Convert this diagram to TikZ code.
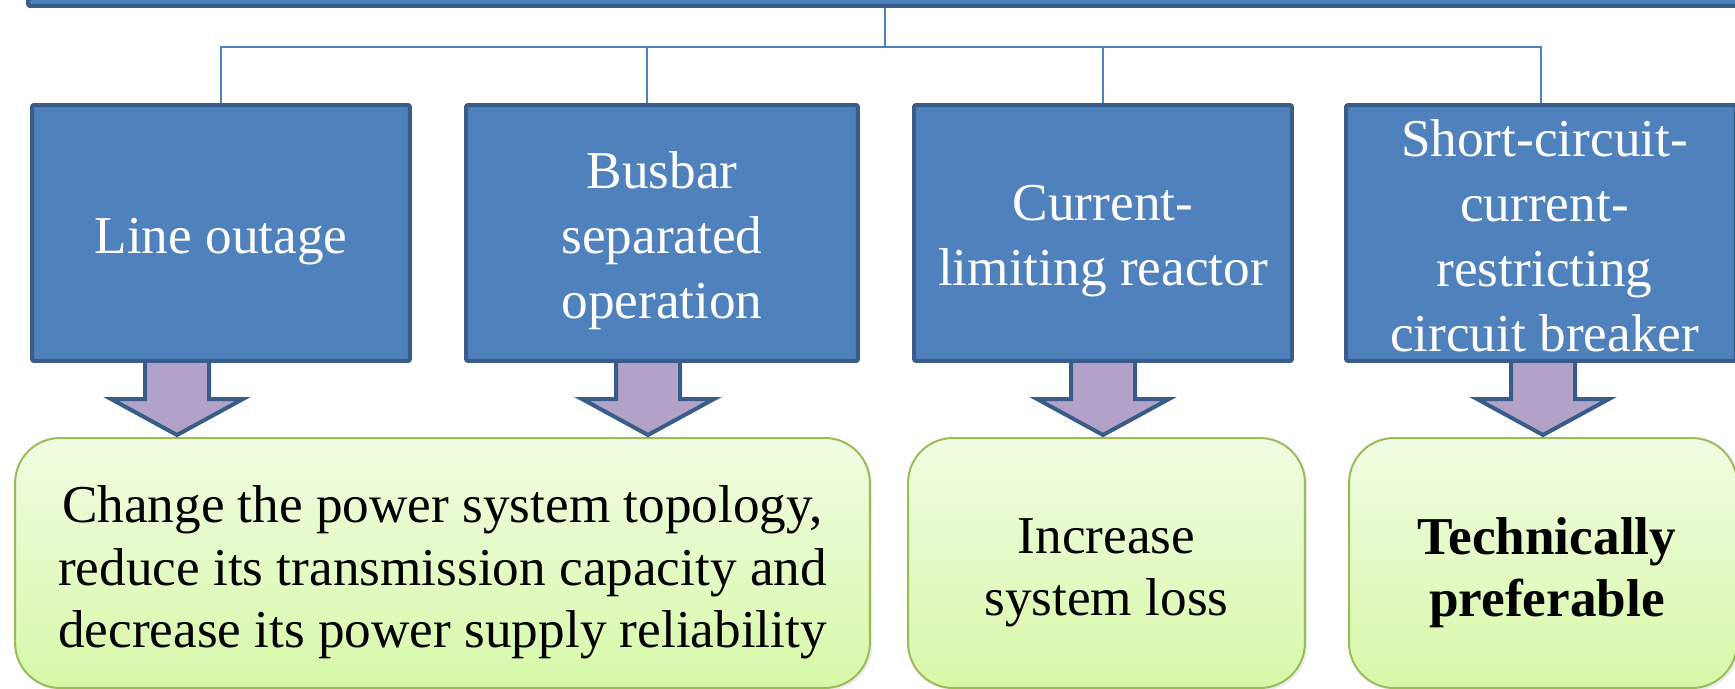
\documentclass[tikz,border=0pt]{standalone}
\usepackage{fontspec}
\setmainfont{Liberation Serif}
\usepackage{tikz}
\usetikzlibrary{shadows}

\definecolor{boxblue}{HTML}{4F81BD}
\definecolor{edgeblue}{HTML}{385D8A}
\definecolor{arrowlilac}{HTML}{B2A2C7}
\definecolor{leafedge}{HTML}{9BBB59}
\definecolor{leaftop}{HTML}{F1FCE2}
\definecolor{leafbottom}{HTML}{D7F8A8}

\tikzset{
  topbox/.style={draw=edgeblue, line width=0.08cm, fill=boxblue, rounded corners=0.04cm,
    inner sep=0pt, minimum height=5.12cm},
  toptext/.style={text=white, align=center, inner sep=0pt,
    font=\fontsize{30.3}{37}\selectfont,
    execute at begin node=\strut, execute at end node=\strut},
  leafbox/.style={draw=leafedge, line width=0.04cm, rounded corners=0.9cm,
    top color=leaftop, bottom color=leafbottom, inner sep=0pt, minimum height=5cm,
    drop shadow={shadow xshift=0.05cm, shadow yshift=-0.05cm, opacity=0.15}},
  leaftext/.style={align=center, inner sep=0pt, font=\fontsize{30.3}{35.5}\selectfont,
    execute at begin node=\strut, execute at end node=\strut},
  link/.style={draw=boxblue, line width=0.04cm},
  downarrow/.style={draw=edgeblue, fill=arrowlilac, line width=0.08cm, line join=miter}
}

\begin{document}
\begin{tikzpicture}[x=0.02cm, y=-0.02cm]
  \useasboundingbox (0,0) rectangle (1735,689);
  \clip (0,0) rectangle (1735,689);

  % consequences
  \node[leafbox, minimum width=17.1cm] (topology) at (442.5,563) {};
  \node[leafbox, minimum width=7.94cm] (loss) at (1106.5,563) {};
  \node[leafbox, minimum width=7.76cm] (prefer) at (1543,563) {};
  \node[leaftext] (topologytext) at ([yshift=-0.26cm]topology.center)
    {Change the power system topology,\\reduce its transmission capacity and\\decrease its power supply reliability};
  \node[leaftext] (losstext) at ([yshift=-0.27cm]loss.center) {Increase\\system loss};
  \node[leaftext, font=\fontsize{30.3}{35.5}\selectfont\bfseries] (prefertext)
    at ([xshift=0.08cm, yshift=-0.27cm]prefer.center) {Technically\\preferable};

  % block arrows
  \foreach \ax in {177,648,1103,1543} {
    \filldraw[downarrow] (\ax-32,350) -- (\ax-32,399) -- (\ax-66,399) -- (\ax,435)
      -- (\ax+66,399) -- (\ax+32,399) -- (\ax+32,350) -- cycle;
  }

  % measures
  \node[topbox, minimum width=35.04cm, minimum height=1.32cm] (root) at (904,-27) {};
  \node[topbox, minimum width=7.56cm] (outage) at (221,233) {};
  \node[topbox, minimum width=7.84cm] (busbar) at (662,233) {};
  \node[topbox, minimum width=7.56cm] (reactor) at (1103,233) {};
  \node[topbox, minimum width=7.8cm] (breaker) at (1541,233) {};
  \node[toptext] (outagetext) at ([yshift=-0.15cm]outage.center) {Line outage};
  \node[toptext] (busbartext) at ([yshift=-0.24cm]busbar.center) {Busbar\\separated\\operation};
  \node[toptext] (reactortext) at ([yshift=-0.25cm]reactor.center) {Current-\\limiting reactor};
  \node[toptext] (breakertext) at ([xshift=0.07cm, yshift=-0.24cm]breaker.center)
    {Short-circuit-\\current-\\restricting\\circuit breaker};

  % tree lines
  \coordinate (hub) at (885,47);
  \coordinate (busbarjoint) at (647,47);
  \draw[link] (hub |- root.south) -- (hub);
  \draw[link] (outage.north) |- (hub) -| (breaker.north);
  \draw[link] (busbarjoint) -- (busbarjoint |- busbar.north);
  \draw[link] (reactor.north |- hub) -- (reactor.north);
\end{tikzpicture}
\end{document}
